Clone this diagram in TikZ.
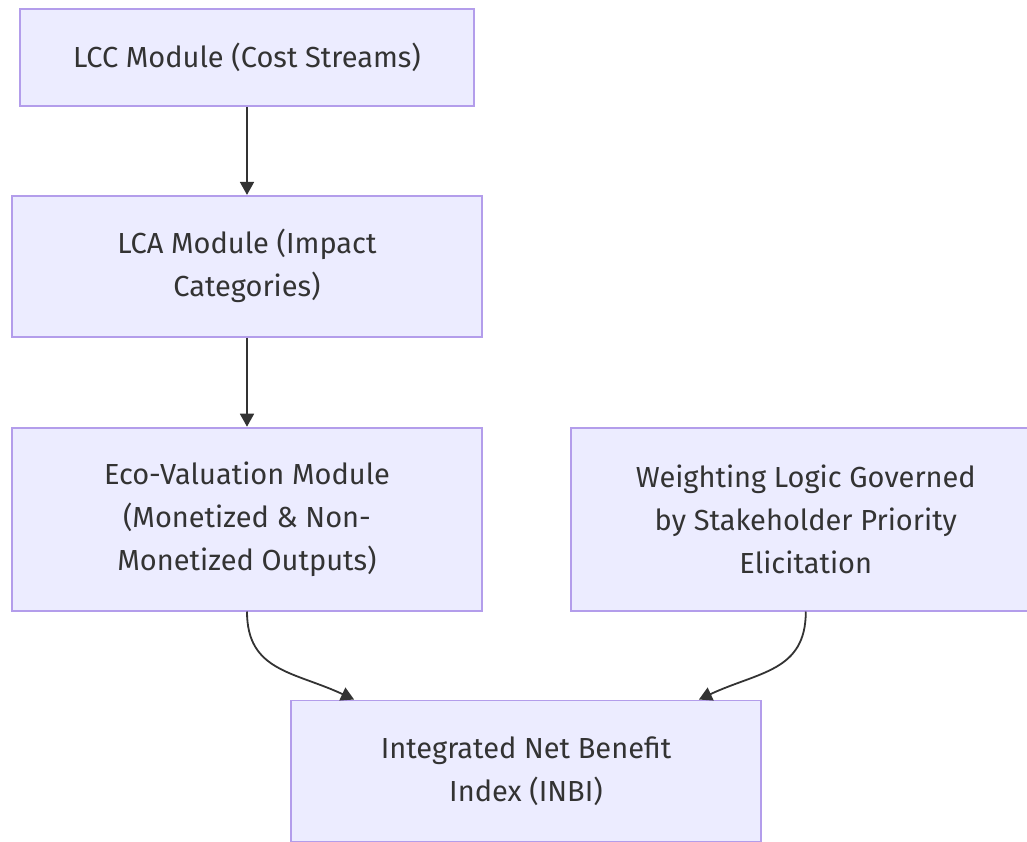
\documentclass[tikz,border=0pt]{standalone}
\usepackage{fontspec}
\setmainfont{Fira Sans}
\usetikzlibrary{positioning, arrows.meta}
\definecolor{boxfill}{HTML}{ECECFF}
\definecolor{boxline}{HTML}{B39DEB}
\definecolor{ink}{HTML}{333333}

\begin{document}
\begin{tikzpicture}[
    x=1pt, y=1pt,
    font=\fontsize{29}{43}\selectfont,
    module/.style={rectangle, draw=boxline, fill=boxfill, line width=1.8pt, text=ink, align=center, inner sep=0pt, minimum width=470pt},
    arrow/.style={-{Triangle[width=14pt, length=13pt]}, draw=ink, line width=1.8pt},
    node distance=88pt
]
\clip (0,0) rectangle (1027,-841);

% Modules
\node[module, minimum width=454pt, minimum height=97pt] (lcc) at (247,-57.5) {LCC Module (Cost Streams)};
\node[module, minimum height=141pt, below=of lcc] (lca) {LCA Module (Impact\\Categories)};
\node[module, minimum height=183pt, below=89pt of lca] (eco) {Eco-Valuation Module\\(Monetized \& Non-\\Monetized Outputs)};
\node[module, minimum height=183pt, right=87pt of eco] (weight) {Weighting Logic Governed\\by Stakeholder Priority\\Elicitation};
\node[module, minimum height=141pt, below=of eco, xshift=279pt] (inbi) {Integrated Net Benefit\\Index (INBI)};

% Flow
\draw[arrow] (lcc) -- (lca);
\draw[arrow] (lca) -- (eco);
\draw[arrow] (eco.south) .. controls +(0,-60) and +(-60,28) .. ([xshift=64pt]inbi.north west);
\draw[arrow] (weight.south) .. controls +(0,-60) and +(60,28) .. ([xshift=-63pt]inbi.north east);

\end{tikzpicture}
\end{document}
